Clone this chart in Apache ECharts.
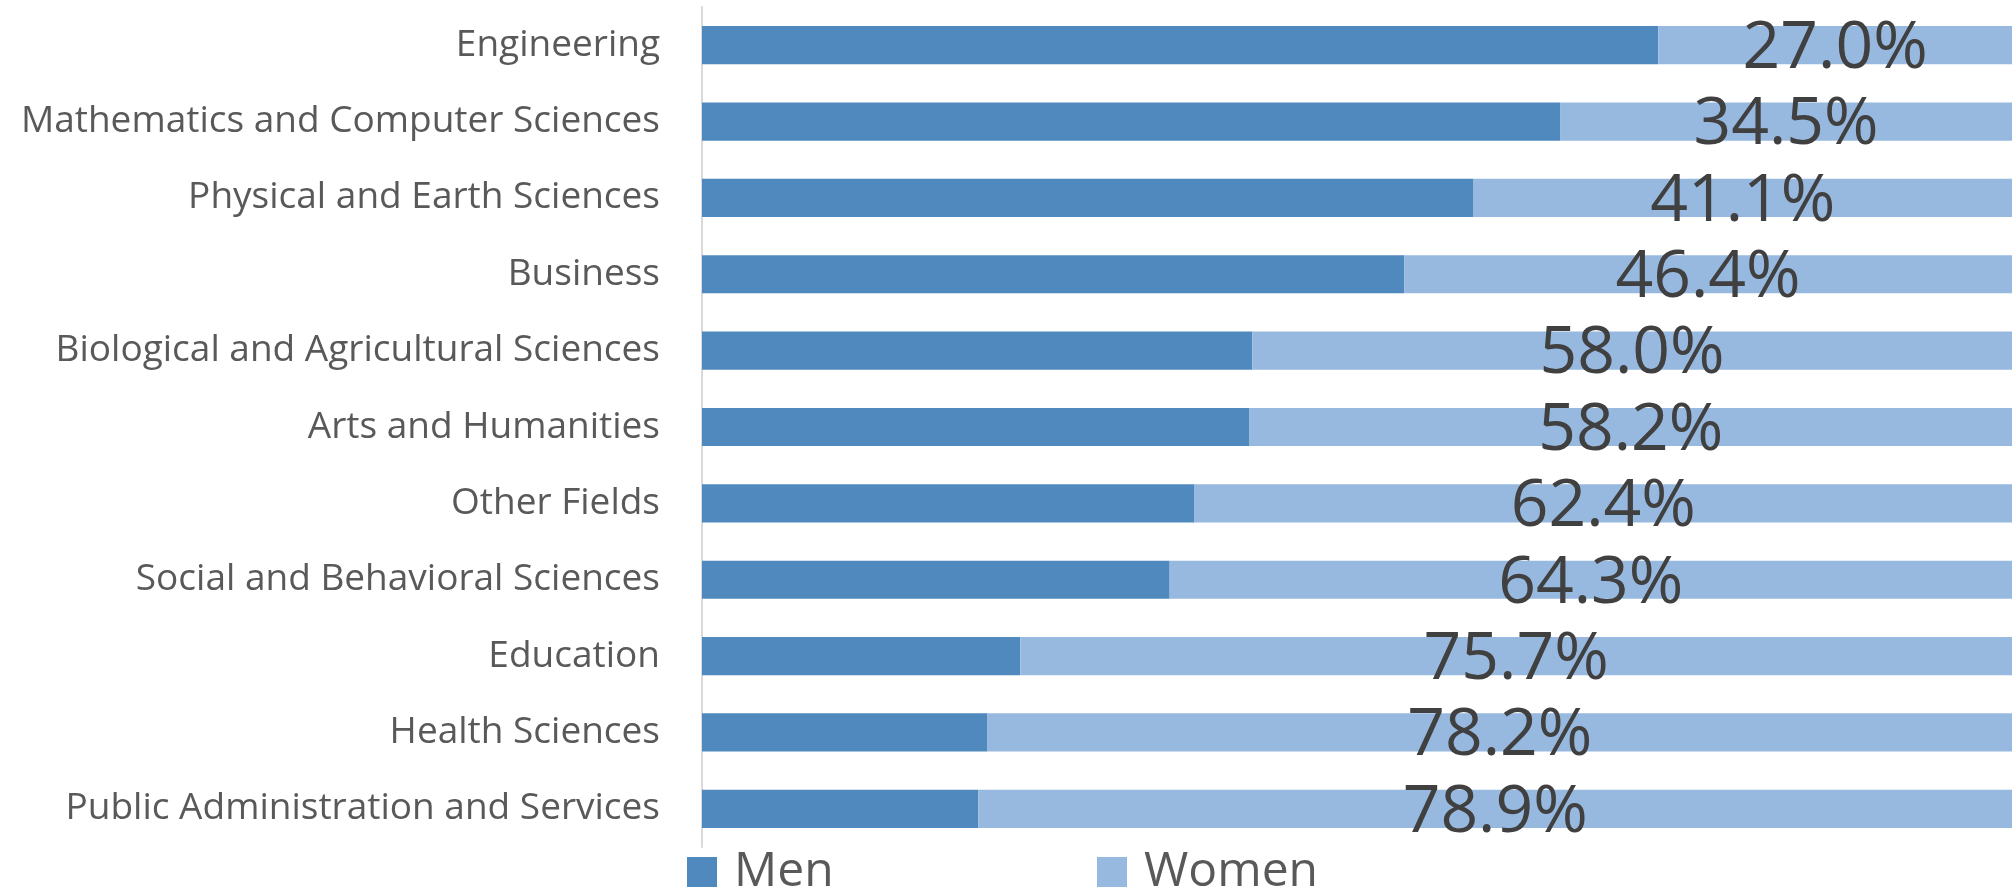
<!DOCTYPE html>
<html>
<head>
<meta charset="utf-8">
<script src="https://cdn.jsdelivr.net/npm/echarts@6/dist/echarts.min.js"></script>
<style>
html,body{margin:0;padding:0;background:#fff;}
#chart{width:2015px;height:889px;}
</style>
</head>
<body>
<div id="chart"></div>
<script>
const categories = [
  'Engineering',
  'Mathematics and Computer Sciences',
  'Physical and Earth Sciences',
  'Business',
  'Biological and Agricultural Sciences',
  'Arts and Humanities',
  'Other Fields',
  'Social and Behavioral Sciences',
  'Education',
  'Health Sciences',
  'Public Administration and Services'
];
const menValues = [73.0, 65.5, 58.9, 53.6, 42.0, 41.8, 37.6, 35.7, 24.3, 21.8, 21.1];
const womenValues = [27.0, 34.5, 41.1, 46.4, 58.0, 58.2, 62.4, 64.3, 75.7, 78.2, 78.9];
const seriesNames = ['Men', 'Women'];

const FONT = '"Open Sans", sans-serif';
const legendText = { fontFamily: FONT, fontSize: 48, color: '#595959', lineHeight: 52, padding: [0, 0, 0, 12] };
const chart = echarts.init(document.getElementById('chart'));
chart.setOption({
  animation: false,
  backgroundColor: '#ffffff',
  grid: { left: 702, right: 3, top: 7, bottom: 42, containLabel: false },
  legend: [
    {
      data: [seriesNames[0]], left: 687, top: 846, padding: 0,
      itemWidth: 30, itemHeight: 30, icon: 'rect', textStyle: legendText
    },
    {
      data: [seriesNames[1]], left: 1097, top: 846, padding: 0,
      itemWidth: 30, itemHeight: 30, icon: 'rect', textStyle: legendText
    }
  ],
  xAxis: {
    type: 'value', min: 0, max: 100,
    show: false, splitLine: { show: false }
  },
  yAxis: {
    type: 'category', data: categories, inverse: true,
    axisLine: { show: true, lineStyle: { color: '#d9d9d9', width: 2 } },
    axisTick: { show: false },
    axisLabel: { fontFamily: FONT, fontSize: 37, color: '#595959', margin: 42 }
  },
  series: [
    {
      name: seriesNames[0], type: 'bar', stack: 'total', data: menValues,
      barCategoryGap: '50%',
      itemStyle: { color: '#4F89BD' }
    },
    {
      name: seriesNames[1], type: 'bar', stack: 'total', data: womenValues,
      barCategoryGap: '50%',
      itemStyle: { color: '#97B9E0' },
      label: {
        show: true, position: 'inside', offset: [0, 4],
        fontFamily: FONT, fontSize: 66, color: '#404040',
        formatter: p => p.value.toFixed(1) + '%'
      }
    }
  ]
});
</script>
</body>
</html>
